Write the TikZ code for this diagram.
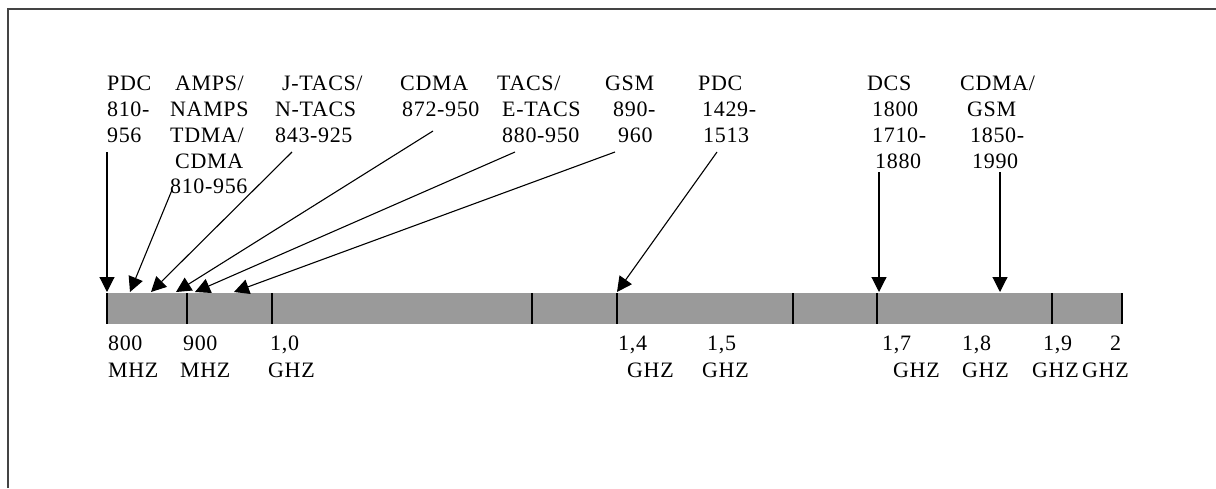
\documentclass[tikz,border=0pt]{standalone}
\usepackage{fontspec}
\setmainfont[LetterSpace=3]{Liberation Serif}
\usetikzlibrary{arrows.meta}
\definecolor{bargray}{HTML}{9A9A9A}
\definecolor{framegray}{HTML}{444444}
\begin{document}
\begin{tikzpicture}[x=1pt,y=-1pt,
  lbl/.style={anchor=base west, inner sep=0pt, font=\fontsize{22}{26}\selectfont},
  arr/.style={line width=1.1pt, -{Triangle[length=15pt,width=15pt]}},
  tick/.style={line width=1.5pt, black}]
\useasboundingbox (0,0) rectangle (1216,488);
\draw[framegray, line width=2pt] (8,488) -- (8,9) -- (1216,9);
% bar
\node (bar) [rectangle, fill=bargray, inner sep=0pt, minimum width=1015pt, minimum height=31pt, anchor=north west] at (107,293) {};
\foreach \t in {107,187,272,532,617,793,877,1052,1122}
  \draw[tick] (\t,293) -- (\t,324);
% top labels
\node[lbl] (pdcA) at (107,90) {PDC};
\node[lbl] (pdcB) at (107,116) {810-};
\node[lbl] (pdcC) at (107,142) {956};
\node[lbl] (ampA) at (175,90) {AMPS/};
\node[lbl] (ampB) at (170,116) {NAMPS};
\node[lbl] (ampC) at (170,142) {TDMA/};
\node[lbl] (ampD) at (175,168) {CDMA};
\node[lbl] (ampE) at (170,193) {810-956};
\node[lbl] (jtA) at (282,90) {J-TACS/};
\node[lbl] (jtB) at (275,116) {N-TACS};
\node[lbl] (jtC) at (275,142) {843-925};
\node[lbl] (cdA) at (400,90) {CDMA};
\node[lbl] (cdB) at (402,116) {872-950};
\node[lbl] (taA) at (497,90) {TACS/};
\node[lbl] (taB) at (502,116) {E-TACS};
\node[lbl] (taC) at (502,142) {880-950};
\node[lbl] (gsA) at (605,90) {GSM};
\node[lbl] (gsB) at (613,116) {890-};
\node[lbl] (gsC) at (618,142) {960};
\node[lbl] (pdA) at (698,90) {PDC};
\node[lbl] (pdB) at (702,116) {1429-};
\node[lbl] (pdC) at (703,142) {1513};
\node[lbl] (dcA) at (867,90) {DCS};
\node[lbl] (dcB) at (872,116) {1800};
\node[lbl] (dcC) at (872,142) {1710-};
\node[lbl] (dcD) at (875,168) {1880};
\node[lbl] (cgA) at (960,90) {CDMA/};
\node[lbl] (cgB) at (967,116) {GSM};
\node[lbl] (cgC) at (970,142) {1850-};
\node[lbl] (cgD) at (972,168) {1990};
% bottom labels
\node[lbl] (f1a) at (108,350) {800};
\node[lbl] (f1b) at (108,377) {MHZ};
\node[lbl] (f2a) at (183,350) {900};
\node[lbl] (f2b) at (180,377) {MHZ};
\node[lbl] (f3a) at (270,350) {1,0};
\node[lbl] (f3b) at (268,377) {GHZ};
\node[lbl] (f4a) at (618,350) {1,4};
\node[lbl] (f4b) at (627,377) {GHZ};
\node[lbl] (f5a) at (707,350) {1,5};
\node[lbl] (f5b) at (702,377) {GHZ};
\node[lbl] (f6a) at (882,350) {1,7};
\node[lbl] (f6b) at (893,377) {GHZ};
\node[lbl] (f7a) at (962,350) {1,8};
\node[lbl] (f7b) at (962,377) {GHZ};
\node[lbl] (f8a) at (1043,350) {1,9};
\node[lbl] (f8b) at (1032,377) {GHZ};
\node[lbl] (f9a) at (1110,350) {2};
\node[lbl] (f9b) at (1082,377) {GHZ};
% arrow ends
\coordinate (s1) at (107,152); \coordinate (e1) at (107,292);
\coordinate (s2) at (172,190); \coordinate (e2) at (130,292);
\coordinate (s3) at (292,152); \coordinate (e3) at (151,292);
\coordinate (s4) at (433,131); \coordinate (e4) at (176,292);
\coordinate (s5) at (515,152); \coordinate (e5) at (195,292);
\coordinate (s6) at (615,152); \coordinate (e6) at (234,292);
\coordinate (s7) at (717,152); \coordinate (e7) at (617,292);
\coordinate (s8) at (879,172); \coordinate (e8) at (879,292);
\coordinate (s9) at (1000,172); \coordinate (e9) at (1000,292);
\foreach \i in {1,...,9}
  \draw[arr] (s\i) -- (e\i);
\end{tikzpicture}
\end{document}
